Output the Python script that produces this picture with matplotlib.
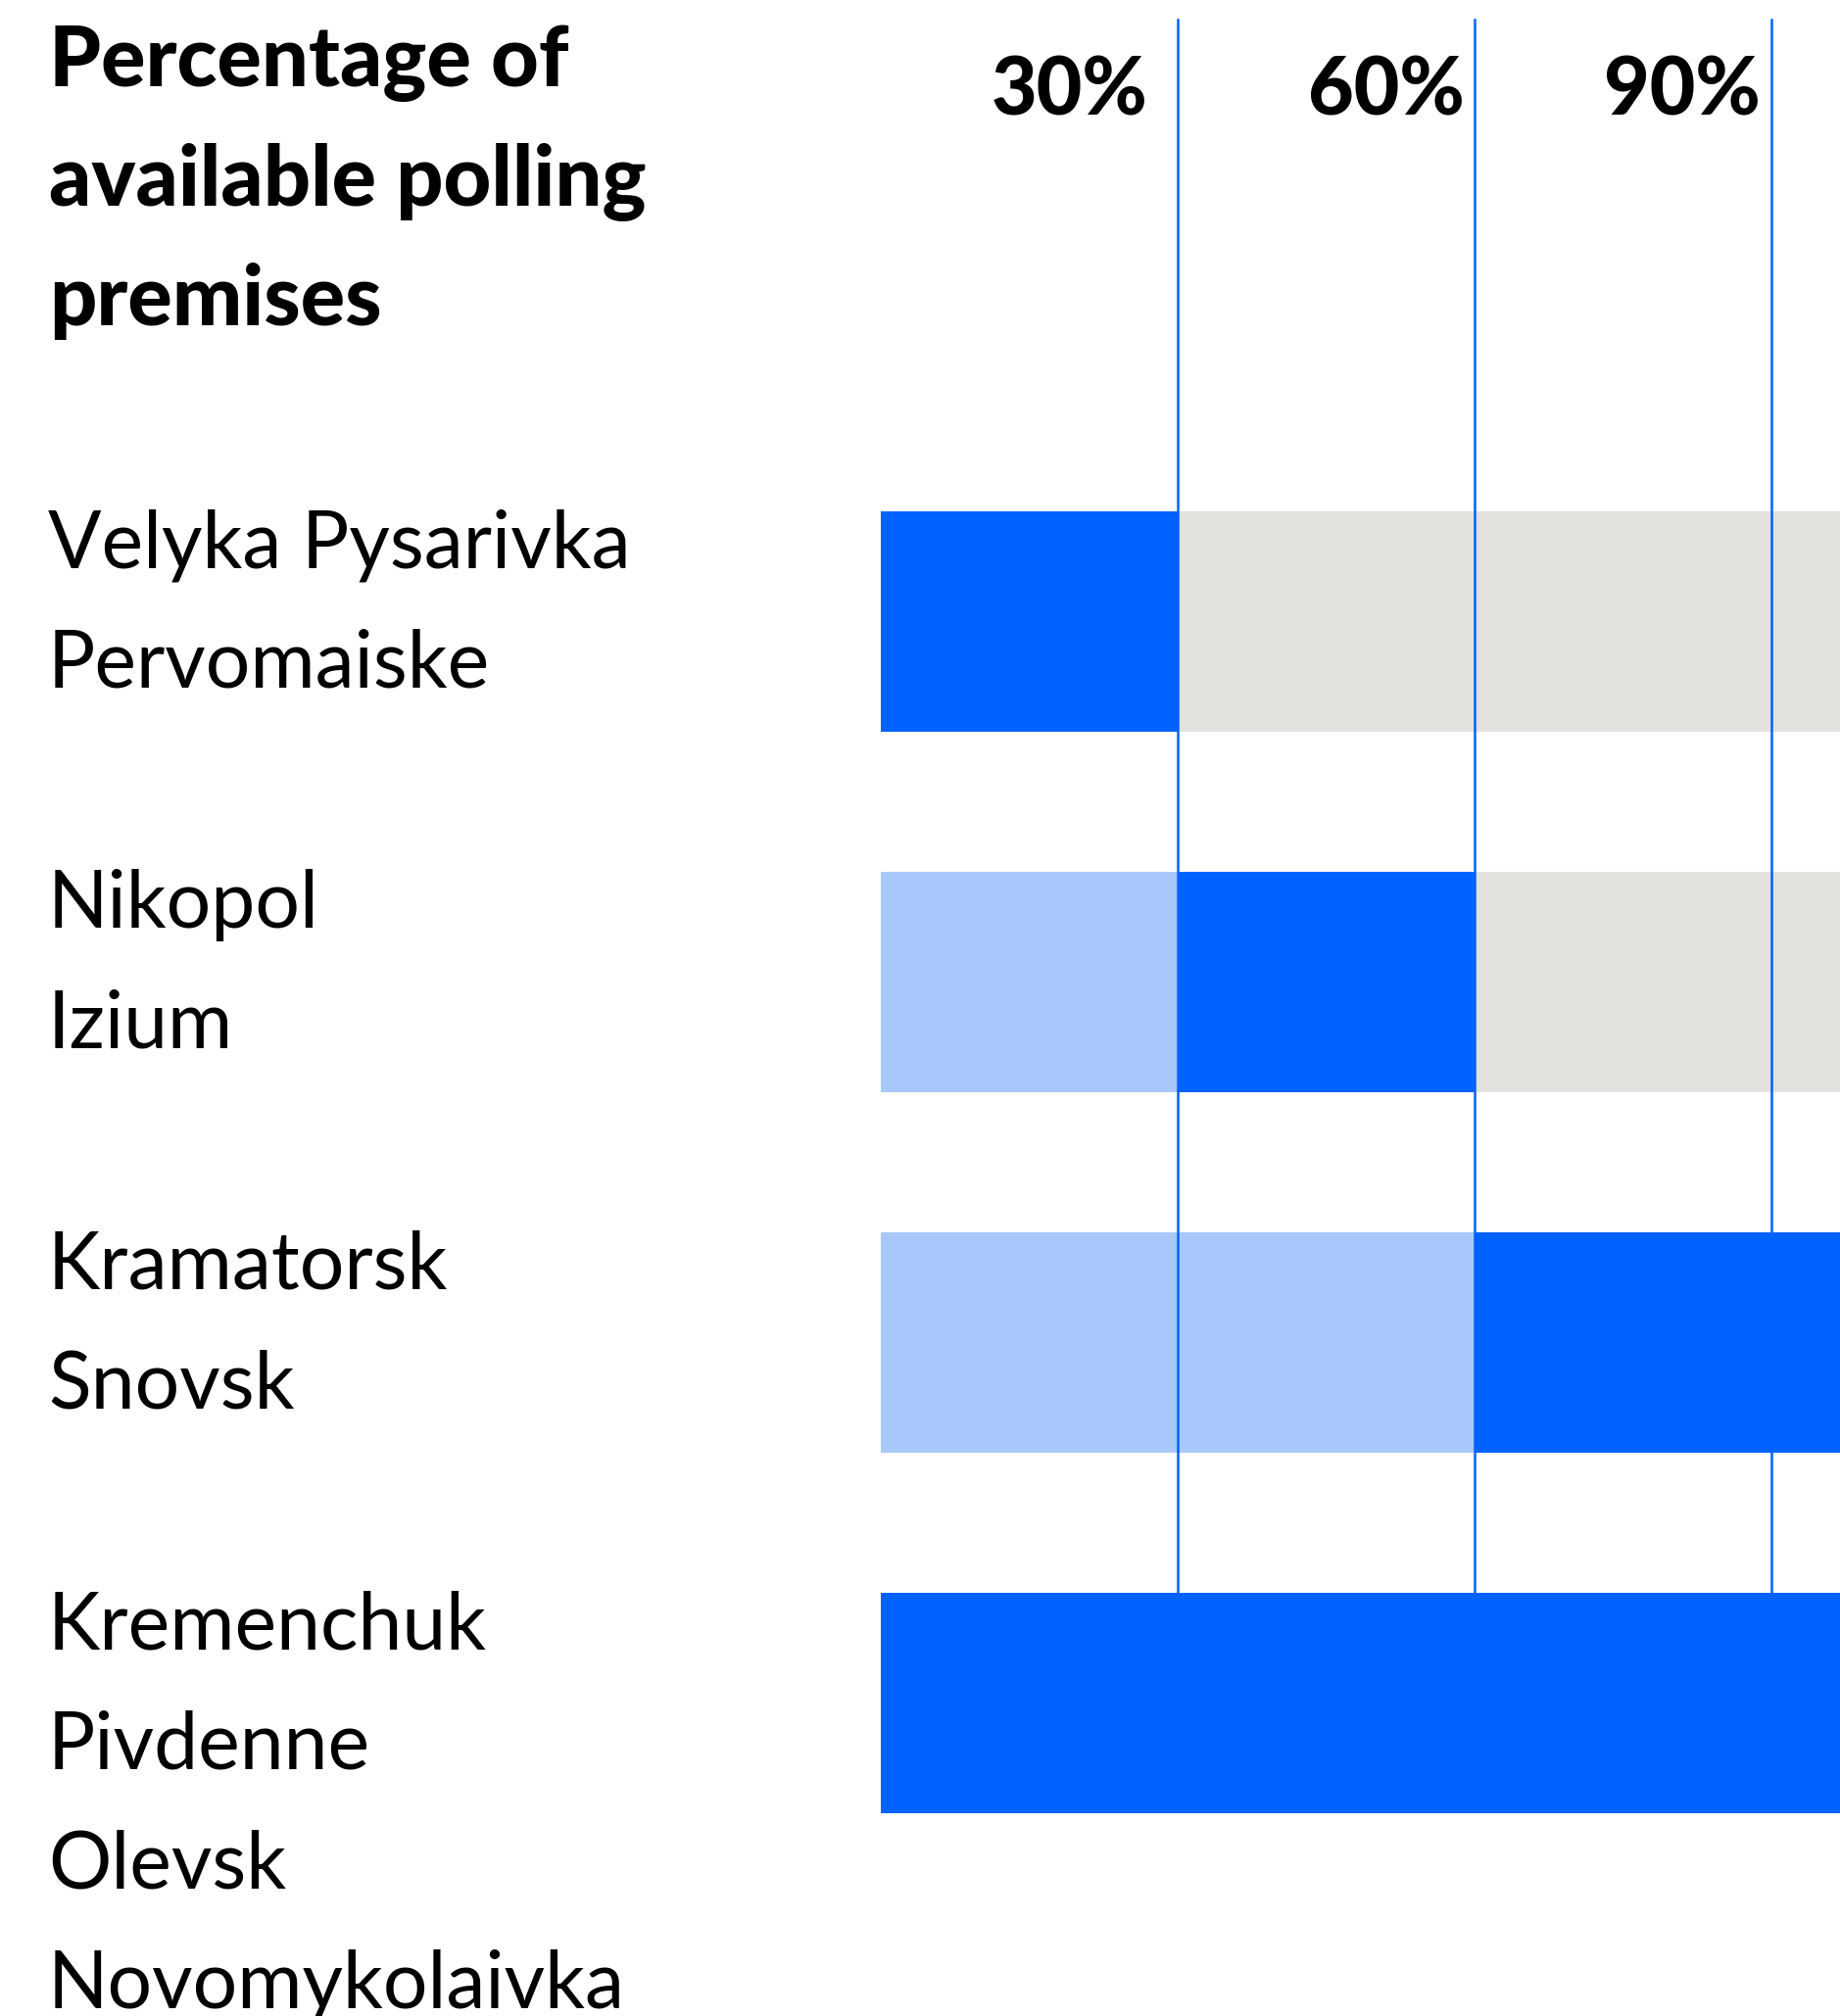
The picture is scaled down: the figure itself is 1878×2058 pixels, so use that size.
import matplotlib
matplotlib.use("Agg")
import matplotlib.pyplot as plt
import matplotlib.transforms as mtransforms

# Data: each group is a range of available polling premises (in %)
groups = [
    ["Velyka Pysarivka", "Pervomaiske"],
    ["Nikopol", "Izium"],
    ["Kramatorsk", "Snovsk"],
    ["Kremenchuk", "Pivdenne", "Olevsk", "Novomykolaivka"],
]
range_low = [0, 30, 60, 0]
range_high = [30, 60, 100, 100]
tick_values = [30, 60, 90]
tick_labels = ["30%", "60%", "90%"]
title_lines = ["Percentage of", "available polling", "premises"]

BLUE = "#0062FF"
LIGHT = "#A8C8FC"
GRAY = "#E2E1DD"

W, H = 1878, 2058
fig = plt.figure(figsize=(W / 100, H / 100), dpi=100)
fig.patch.set_facecolor("white")

# axes spans the full height; left edge at 0%
x0_px = 899
px_per_pct = 10.1
ax = fig.add_axes([x0_px / W, 0, 1 - x0_px / W, 1])
ax.set_xlim(0, (W - x0_px) / px_per_pct)
pitch = 368.0
first_center = 634.5
ax.set_ylim((H - first_center) / pitch, -first_center / pitch)
ax.axis("off")

bar_h = 225 / pitch
for i in range(len(groups)):
    lo, hi = range_low[i], range_high[i]
    if lo > 0:
        ax.barh(i, lo, left=0, height=bar_h, color=LIGHT, linewidth=0, zorder=1)
    ax.barh(i, hi - lo, left=lo, height=bar_h, color=BLUE, linewidth=0, zorder=1)
    if hi < 100:
        ax.barh(i, 100 - hi, left=hi, height=bar_h, color=GRAY, linewidth=0, zorder=1)

# grid lines drawn over the bars
for v in tick_values:
    ax.axvline(v, ymin=1 - 1700 / H, ymax=1 - 20 / H, color=BLUE, lw=1.8, zorder=3)

font_reg = "Lato"
# tick labels on top
tr_top = mtransforms.blended_transform_factory(ax.transData, fig.transFigure)
nudges = [-30, -10, -11]
for v, lab, dx in zip(tick_values, tick_labels, nudges):
    ax.annotate(lab, xy=(v, 1 - 118 / H), xycoords=tr_top,
                xytext=(dx, 0), textcoords="offset pixels",
                ha="right", va="baseline", fontsize=58, fontweight="black",
                family=font_reg, color="black")

# title
for k, line in enumerate(title_lines):
    fig.text(50 / W, 1 - (88 + 122 * k) / H, line, ha="left", va="baseline",
             fontsize=61, fontweight="black", family=font_reg, color="black")

# city names, stacked next to each bar
tr_lab = mtransforms.blended_transform_factory(fig.transFigure, ax.transData)
for i, names in enumerate(groups):
    top = i - bar_h / 2
    for k, name in enumerate(names):
        ax.text(49 / W, top + (57 + 122 * k) / pitch, name, transform=tr_lab,
                ha="left", va="baseline", fontsize=58, family=font_reg,
                color="black", clip_on=False)

fig.savefig("out.png", dpi=100, facecolor="white")
